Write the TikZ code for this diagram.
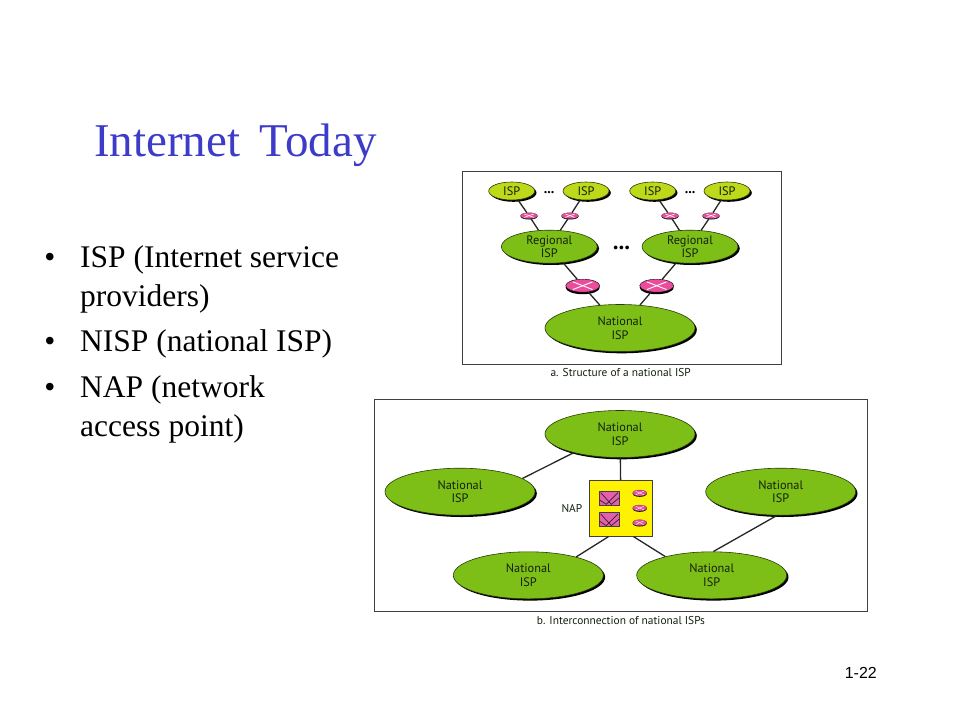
\documentclass[tikz,border=0pt]{standalone}
\usepackage{fontspec}
\setmainfont{Liberation Serif}
\newfontfamily\labelfont[Ligatures=NoCommon]{PT Sans}
\newfontfamily\numfont{Liberation Sans}
\usepackage{xcolor}
\usepackage{tikz}
\usetikzlibrary{positioning, calc, shapes.geometric, shadows}
\definecolor{titleblue}{HTML}{3C3CC8}
\definecolor{ispgreen}{HTML}{7DBF17}
\definecolor{leafgreen}{HTML}{BDD91A}
\definecolor{rimgreen}{HTML}{2B3B08}
\definecolor{routerpink}{HTML}{EC4C9C}
\definecolor{swpink}{HTML}{E65FAE}
\definecolor{napyellow}{HTML}{FFF200}
\definecolor{labeltext}{HTML}{14200C}

\begin{document}
\begin{tikzpicture}[
  x=1pt, y=-1pt,
  isp/.style={ellipse, draw=rimgreen, fill=ispgreen, line width=0.6pt, inner sep=0pt, align=center,
    font=\labelfont\fontsize{12.3}{13.7}\selectfont, text=labeltext,
    copy shadow={shadow xshift=1.8pt, shadow yshift=-1.8pt, fill=black, draw=none}},
  nat/.style={isp, minimum width=150pt, minimum height=47pt},
  reg/.style={isp, minimum width=96pt, minimum height=33pt},
  leaf/.style={isp, fill=leafgreen, minimum width=46pt, minimum height=18pt},
  rtbig/.style={ellipse, draw=black, fill=routerpink, line width=0.4pt, inner sep=0pt,
    minimum width=34pt, minimum height=13pt,
    copy shadow={shadow xshift=0pt, shadow yshift=-2pt, fill=black, draw=none}},
  rtsmall/.style={ellipse, draw=black!70, fill=routerpink, line width=0.3pt, inner sep=0pt,
    minimum width=17pt, minimum height=6pt,
    copy shadow={shadow xshift=0pt, shadow yshift=-0.8pt, fill=black, draw=none}},
  swbox/.style={rectangle, draw=black!75, fill=swpink, line width=0.7pt, inner sep=0pt,
    minimum width=20.5pt, minimum height=14pt},
  frm/.style={rectangle, draw=black!75, line width=0.8pt, inner sep=0pt},
  link/.style={draw=black!85, line width=1.3pt},
  xline/.style={draw=white, line width=0.9pt},
  capt/.style={font=\labelfont\fontsize{11.4}{13}\selectfont, text=labeltext, inner sep=0pt},
  txt/.style={anchor=base west, align=left, inner sep=0pt, font=\fontsize{31.5}{39}\selectfont, text=black},
  bul/.style={anchor=base, inner sep=0pt, font=\fontsize{31.5}{39}\selectfont, text=black}
]
  \useasboundingbox (0,0) rectangle (960,720);

  % Slide text
  \node[anchor=base west, inner sep=0pt, text=titleblue, font=\fontsize{47}{50}\selectfont] (title) at (94,156) {Internet\, Today};
  \node[bul] (b1) at (50,267) {\textbullet};
  \node[bul] (b2) at (50,351) {\textbullet};
  \node[bul] (b3) at (50,397) {\textbullet};
  \node[txt] (t1) at (80,306) {ISP (Internet service\\providers)};
  \node[txt] (t2) at (80,351) {NISP (national ISP)};
  \node[txt] (t3) at (80,436) {NAP (network\\access point)};
  \node[anchor=base east, inner sep=0pt, font=\numfont\fontsize{16}{18}\selectfont] (pg) at (877,678) {1-22};

  % Frames
  \node[frm, minimum width=319pt, minimum height=192.5pt] (fa) at (621.5,268) {};
  \node[frm, minimum width=493pt, minimum height=212pt] (fb) at (620.5,505) {};
  \node[capt] (ca) at (620.7,373) {a. Structure of a national ISP};
  \node[capt] (cb) at (621,620) {b. Interconnection of national ISPs};

  % Part a: nodes
  \node[leaf] (l1) at (511.7,191) {ISP};
  \node[leaf] (l2) at (586,191) {ISP};
  \node[leaf] (l3) at (652.7,191) {ISP};
  \node[leaf] (l4) at (727,191) {ISP};
  \node[reg] (r1) at (549.3,246.7) {Regional\\ISP};
  \node[reg] (r2) at (690,246.7) {Regional\\ISP};
  \node[nat] (na) at (620,328) {National\\ISP};
  \node[rtsmall] (s1) at (529,215.7) {};
  \node[rtsmall] (s2) at (570,215.7) {};
  \node[rtsmall] (s3) at (670,215.7) {};
  \node[rtsmall] (s4) at (711,215.7) {};
  \node[rtbig] (m1) at (582.7,285.7) {};
  \node[rtbig] (m2) at (656.7,285.7) {};

  % Part a: links
  \foreach \a/\b/\c in {l1/s1/r1, l2/s2/r1, l3/s3/r2, l4/s4/r2} {
    \draw[link] (\a) -- (\b);
    \draw[link] (\b) -- (\c);
  }
  \foreach \b/\c in {m1/r1, m2/r2} {
    \draw[link] (\b) -- (\c);
    \draw[link] (\b) -- (na);
  }

  % Crosses on the routers
  \foreach \r in {s1,s2,s3,s4} {
    \draw[xline, line width=0.6pt, shorten <=1.5pt, shorten >=1.5pt] (\r.north west) -- (\r.south east);
    \draw[xline, line width=0.6pt, shorten <=1.5pt, shorten >=1.5pt] (\r.south west) -- (\r.north east);
  }
  \foreach \r in {m1,m2} {
    \draw[xline, shorten <=2.5pt, shorten >=2.5pt] (\r.north west) -- (\r.south east);
    \draw[xline, shorten <=2.5pt, shorten >=2.5pt] (\r.south west) -- (\r.north east);
  }

  % Dots
  \node[inner sep=0pt, font=\bfseries\fontsize{14}{14}\selectfont] (d1) at (549,193) {...};
  \node[inner sep=0pt, font=\bfseries\fontsize{14}{14}\selectfont] (d2) at (690,193) {...};
  \node[inner sep=0pt, font=\bfseries\fontsize{23}{23}\selectfont] (d3) at (621.5,248) {...};

  % Part b: nodes
  \node[nat] (nt) at (620,434) {National\\ISP};
  \node[nat] (nl) at (460,491.7) {National\\ISP};
  \node[nat] (nr) at (780.7,491.7) {National\\ISP};
  \node[nat] (bl) at (528.3,575.3) {National\\ISP};
  \node[nat] (br) at (711.7,575.3) {National\\ISP};
  \node[rectangle, draw=black!75, fill=napyellow, line width=0.6pt, minimum width=63.5pt, minimum height=56pt, inner sep=0pt] (nap) at (621,508.3) {};
  \node[left=6.5pt of nap, capt] (naplab) {NAP};
  \node[swbox] (sw1) at (609.3,498) {};
  \node[swbox] (sw2) at (609.3,519.3) {};
  \node[rtsmall, minimum width=14pt] (p1) at (639.7,493) {};
  \node[rtsmall, minimum width=14pt] (p2) at (639.7,508) {};
  \node[rtsmall, minimum width=14pt] (p3) at (639.7,522.7) {};

  % Part b: links
  \draw[link] (nt) -- (nap);
  \draw[link] (nt.202) -- (nl.12);
  \draw[link] ([xshift=-12.5pt]nap.south) -- (bl.21);
  \draw[link] ([xshift=12.5pt]nap.south) -- (br.158);
  \draw[link] (br.86) -- (nr.261);

  % Switch pattern
  \foreach \s in {sw1,sw2} {
    \draw[black!85, line width=0.7pt] ($(\s.north west)+(2,2)$) -- ($(\s.south)+(2,-1)$) -- ($(\s.east)+(-1,0)$);
    \draw[black!85, line width=0.7pt] ($(\s.north east)+(-2,2)$) -- ($(\s.south)+(-3,-1)$);
    \draw[black!85, line width=0.7pt] ($(\s.west)+(1,2)$) -- ($(\s.south)+(-3,-1)$);
  }
  \foreach \r in {p1,p2,p3} {
    \draw[xline, line width=0.4pt, shorten <=1pt, shorten >=1pt] (\r.south west) -- (\r.north east);
    \draw[xline, line width=0.4pt, shorten <=1pt, shorten >=1pt] (\r.north west) -- (\r.south east);
  }
\end{tikzpicture}
\end{document}
